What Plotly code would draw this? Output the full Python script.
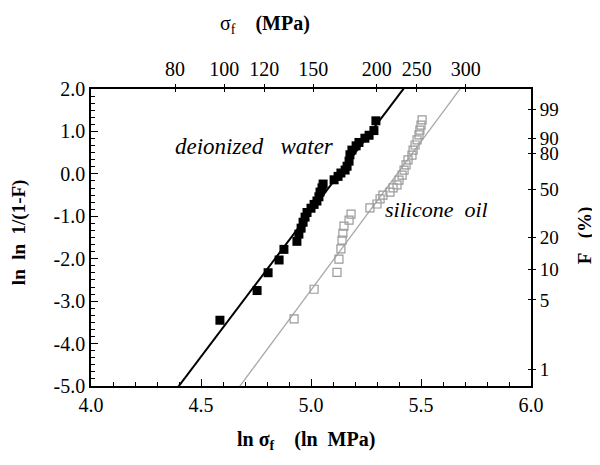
import numpy as np
import plotly.graph_objects as go

# ---- data ----
water_x = [4.586, 4.755, 4.805, 4.855, 4.877, 4.936, 4.945, 4.955, 4.964, 4.973,
           4.982, 5.000, 5.014, 5.027, 5.036, 5.041, 5.050, 5.055, 5.105, 5.123,
           5.136, 5.155, 5.164, 5.173, 5.177, 5.186, 5.205, 5.218, 5.245, 5.264,
           5.286, 5.295]
water_y = [-3.45, -2.75, -2.33, -2.03, -1.78, -1.59, -1.42, -1.28, -1.14, -1.02,
           -0.91, -0.81, -0.72, -0.64, -0.54, -0.43, -0.33, -0.24, -0.14, -0.06,
           0.02, 0.09, 0.18, 0.30, 0.45, 0.56, 0.66, 0.74, 0.84, 0.91,
           1.02, 1.25]

oil_x = [4.923, 5.014, 5.118, 5.127, 5.136, 5.141, 5.145, 5.150, 5.173, 5.182,
         5.268, 5.300, 5.314, 5.327, 5.359, 5.373, 5.391, 5.400, 5.414, 5.423,
         5.432, 5.441, 5.459, 5.464, 5.473, 5.482, 5.491, 5.495, 5.500, 5.505]
oil_y = [-3.42, -2.72, -2.32, -2.01, -1.77, -1.56, -1.40, -1.23, -1.09, -0.95,
         -0.80, -0.71, -0.59, -0.50, -0.43, -0.33, -0.26, -0.15, -0.03, 0.09,
         0.21, 0.33, 0.44, 0.56, 0.68, 0.80, 0.92, 1.03, 1.15, 1.27]

# fitted Weibull lines: y = slope * x + intercept
water_fit = {"slope": 6.86, "intercept": -35.18}
oil_fit = {"slope": 7.00, "intercept": -37.74}

bottom_ticks = [4.0, 4.5, 5.0, 5.5, 6.0]
left_ticks = [2.0, 1.0, 0.0, -1.0, -2.0, -3.0, -4.0, -5.0]
top_tick_mpa = [80, 100, 120, 150, 200, 240, 300]
top_tick_text = ["80", "100", "120", "150", "200", "250", "300"]
right_tick_pct = [99, 90, 80, 50, 20, 10, 5, 1]

SERIF = "Liberation Serif"
NB = "&nbsp;"

# page has an 8px body margin; plot area wanted at page x 91..531, y 89..385.7
OFF = 8
PL, PR, PT, PB = 91, 531, 89, 385.7
W, H = 600 - OFF, 465 - OFF

fit_x = np.array([4.2, 5.9])

fig = go.Figure()
fig.add_trace(go.Scatter(x=fit_x, y=water_fit["slope"] * fit_x + water_fit["intercept"],
                         mode="lines", line=dict(color="black", width=2), showlegend=False))
fig.add_trace(go.Scatter(x=fit_x, y=oil_fit["slope"] * fit_x + oil_fit["intercept"],
                         mode="lines", line=dict(color="#a8a8a8", width=1.3), showlegend=False))
fig.add_trace(go.Scatter(x=water_x, y=water_y, mode="markers",
                         marker=dict(symbol="square", size=9, color="black"),
                         showlegend=False))
fig.add_trace(go.Scatter(x=oil_x, y=oil_y, mode="markers",
                         marker=dict(symbol="square-open", size=8, color="#9a9a9a",
                                     line=dict(width=1.2)),
                         showlegend=False))
# invisible traces to activate the extra axes
for xa, ya in [("x2", "y"), ("x3", "y"), ("x", "y2"), ("x", "y3")]:
    fig.add_trace(go.Scatter(x=[5.0], y=[-10], xaxis=xa, yaxis=ya, mode="markers",
                             marker=dict(opacity=0), showlegend=False, hoverinfo="skip"))

tickfont = dict(family=SERIF, size=20, color="black")

top_pos = list(np.log(top_tick_mpa))
right_pos = [float(np.log(-np.log(1 - p / 100.0))) for p in right_tick_pct]


def ann(text, px, py, size, angle=0):
    return dict(text=text, x=(px - PL) / (PR - PL), y=1 - (py - PT) / (PB - PT),
                xref="paper", yref="paper", xanchor="center", yanchor="middle",
                textangle=angle, showarrow=False,
                font=dict(family=SERIF, size=size, color="black"))


fig.update_layout(
    width=W, height=H,
    margin=dict(l=PL - OFF, r=W + OFF - PR, t=PT - OFF, b=H + OFF - PB, autoexpand=False),
    plot_bgcolor="white", paper_bgcolor="white",
    xaxis=dict(range=[4.0, 6.0], tickvals=bottom_ticks, automargin=False,
               ticktext=[f"{v:.1f}" for v in bottom_ticks],
               ticks="inside", ticklen=7, tickwidth=1.2, tickcolor="black",
               minor=dict(dtick=0.1, ticks="inside", ticklen=4, tickcolor="black", tickwidth=1),
               showline=True, linecolor="black", linewidth=1.5, mirror=True,
               showgrid=False, zeroline=False, tickfont=tickfont),
    xaxis2=dict(range=[4.0, 6.0], overlaying="x", side="top", anchor="y", automargin=False,
                tickvals=top_pos, ticktext=top_tick_text,
                ticks="outside", ticklen=4, tickwidth=1.2, tickcolor="black",
                showgrid=False, zeroline=False, showline=False, tickfont=tickfont),
    xaxis3=dict(range=[4.0, 6.0], overlaying="x", side="top", anchor="y", automargin=False,
                tickvals=top_pos, showticklabels=False,
                ticks="inside", ticklen=3, tickwidth=1.2, tickcolor="black",
                showgrid=False, zeroline=False, showline=False),
    yaxis=dict(range=[-5.0, 2.0], tickvals=left_ticks, automargin=False,
               ticktext=[f"{v:.1f}" for v in left_ticks],
               ticks="inside", ticklen=7, tickwidth=1.2, tickcolor="black",
               minor=dict(dtick=1/6, tick0=0, ticks="inside", ticklen=4, tickcolor="black", tickwidth=1),
               showline=True, linecolor="black", linewidth=1.5, mirror=True,
               showgrid=False, zeroline=False, tickfont=tickfont),
    yaxis2=dict(range=[-5.0, 2.0], overlaying="y", side="right", anchor="x", automargin=False,
                tickvals=right_pos, ticktext=[str(p) for p in right_tick_pct],
                ticks="outside", ticklen=4, tickwidth=1.2, tickcolor="black",
                showgrid=False, zeroline=False, showline=False,
                tickfont=dict(family=SERIF, size=19, color="black")),
    yaxis3=dict(range=[-5.0, 2.0], overlaying="y", side="right", anchor="x", automargin=False,
                tickvals=right_pos, showticklabels=False,
                ticks="inside", ticklen=3, tickwidth=1.2, tickcolor="black",
                showgrid=False, zeroline=False, showline=False),
    annotations=[
        ann(f"<i>deionized{NB}{NB}{NB}water</i>", 254, 146, 23),
        ann(f"<i>silicone{NB}{NB}oil</i>", 436, 209, 22),
        ann(f"<b>ln{NB}{NB}ln{NB}{NB}1/(1-F)</b>", 19, 232, 19, -90),
        ann(f"<b>F{NB}{NB}{NB}(%)</b>", 585, 235, 19, -90),
        ann(f"σ<sub>f</sub>{NB}{NB}{NB}{NB}<b>(MPa)</b>", 265, 25, 20),
        ann(f"<b>ln{NB}σ<sub>f</sub>{NB}{NB}{NB}{NB}(ln{NB}{NB}MPa)</b>", 306, 440, 20),
    ],
)

fig.write_html("out.html")
